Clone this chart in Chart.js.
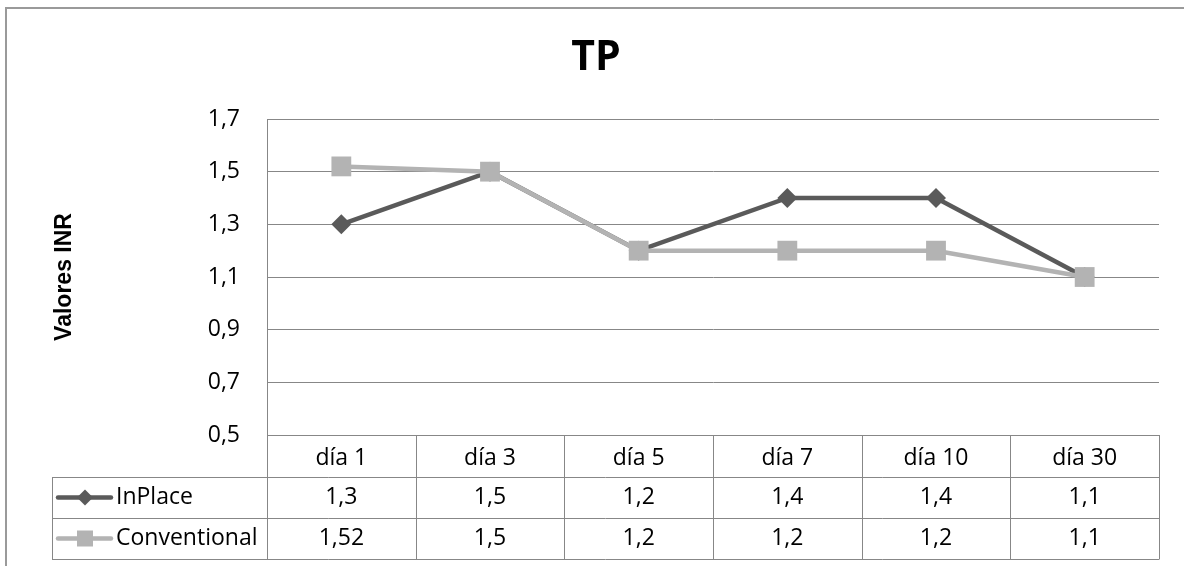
<!DOCTYPE html>
<html lang="es">
<head>
<meta charset="utf-8">
<title>TP</title>
<script src="https://cdn.jsdelivr.net/npm/chart.js@4.4.1/dist/chart.umd.min.js"></script>
<style>
  html, body { margin: 0; padding: 0; background: #fff; }
  canvas { display: block; }
</style>
</head>
<body>
<canvas id="grafico" width="1184" height="566"></canvas>
<script>
const dias = ["día 1", "día 3", "día 5", "día 7", "día 10", "día 30"];
const inPlace = [1.3, 1.5, 1.2, 1.4, 1.4, 1.1];
const conventional = [1.52, 1.5, 1.2, 1.2, 1.2, 1.1];
const ticksInr = [0.5, 0.7, 0.9, 1.1, 1.3, 1.5, 1.7];

const OSCURO = "#5a5a5a";
const CLARO = "#b3b3b3";
const LINEA = "#878787";
const FUENTE = "'Open Sans', sans-serif";
const TAM = 23;

const coma = v => String(v).replace(".", ",");

// marcador pequeño para la leyenda dentro de la tabla
function marca(ctx, estilo, cx, cy, color) {
  ctx.fillStyle = color;
  ctx.beginPath();
  if (estilo === "rectRot") {
    const r = 8;
    ctx.moveTo(cx - r, cy);
    ctx.lineTo(cx, cy - r);
    ctx.lineTo(cx + r, cy);
    ctx.lineTo(cx, cy + r);
    ctx.closePath();
  } else {
    ctx.rect(cx - 8, cy - 8, 16, 16);
  }
  ctx.fill();
}

// recuadro, título y tabla de datos bajo el eje X
const tablaDatos = {
  id: "tablaDatos",
  afterDraw(chart) {
    const { ctx, chartArea: area, scales: { x } } = chart;
    const paso = x.getPixelForValue(1) - x.getPixelForValue(0);
    const izq = x.getPixelForValue(0) - paso / 2;
    const filaAlto = 41;
    const cabecera = area.bottom;
    const y0 = x.bottom;
    const series = chart.data.datasets;
    const fondo = y0 + filaAlto * series.length;
    const tablaIzq = 52;

    ctx.save();

    // recuadro exterior
    ctx.strokeStyle = "#9a9a9a";
    ctx.lineWidth = 2;
    ctx.strokeRect(6, 8, 1400, 800);

    // título
    ctx.fillStyle = "#000";
    ctx.font = "bold 41px " + FUENTE;
    ctx.textAlign = "center";
    ctx.textBaseline = "middle";
    ctx.fillText("TP", 596, 58);

    // rejilla de la tabla
    ctx.strokeStyle = LINEA;
    ctx.lineWidth = 1;
    ctx.beginPath();
    for (let i = 0; i <= series.length; i++) {
      const y = Math.round(y0 + i * filaAlto) + 0.5;
      ctx.moveTo(tablaIzq, y);
      ctx.lineTo(area.right, y);
    }
    ctx.moveTo(tablaIzq + 0.5, y0);
    ctx.lineTo(tablaIzq + 0.5, fondo);
    for (let i = 0; i <= dias.length; i++) {
      const xx = Math.round(izq + i * paso) + 0.5;
      ctx.moveTo(xx, cabecera);
      ctx.lineTo(xx, fondo + 0.5);
    }
    ctx.stroke();

    // filas: leyenda + valores
    ctx.font = TAM + "px " + FUENTE;
    series.forEach((ds, f) => {
      const cy = y0 + f * filaAlto + filaAlto / 2;
      ctx.strokeStyle = ds.borderColor;
      ctx.lineWidth = 4.5;
      ctx.lineCap = "round";
      ctx.beginPath();
      ctx.moveTo(58, cy);
      ctx.lineTo(111, cy);
      ctx.stroke();
      marca(ctx, ds.pointStyle, 85, cy, ds.borderColor);

      ctx.fillStyle = "#000";
      ctx.textAlign = "left";
      ctx.fillText(ds.label, 116, cy);
      ctx.textAlign = "center";
      ds.data.forEach((v, i) => {
        ctx.fillText(coma(v), x.getPixelForValue(i), cy);
      });
    });

    ctx.restore();
  }
};

new Chart(document.getElementById("grafico"), {
  type: "line",
  data: {
    labels: dias,
    datasets: [
      {
        label: "InPlace",
        data: inPlace,
        borderColor: OSCURO,
        backgroundColor: OSCURO,
        borderWidth: 4.5,
        pointStyle: "rectRot",
        pointRadius: 10,
        pointBorderWidth: 0,
        order: 1,
      },
      {
        label: "Conventional",
        data: conventional,
        borderColor: CLARO,
        backgroundColor: CLARO,
        borderWidth: 4.5,
        pointStyle: "rect",
        pointRadius: 14,
        pointBorderWidth: 0,
        order: 0,
      },
    ],
  },
  options: {
    responsive: false,
    animation: false,
    layout: { padding: { left: 0, top: 119, right: 25, bottom: 89 } },
    plugins: {
      legend: { display: false },
      tooltip: { enabled: false },
      title: { display: false },
    },
    scales: {
      x: {
        offset: true,
        grid: { display: false, drawTicks: false },
        border: { display: false },
        ticks: {
          color: "#000",
          font: { family: FUENTE, size: TAM },
          padding: 10,
          maxRotation: 0,
          autoSkip: false,
        },
        afterFit: s => { s.height = 42; },
      },
      y: {
        min: 0.5,
        max: 1.7,
        afterBuildTicks: s => { s.ticks = ticksInr.map(v => ({ value: v })); },
        ticks: {
          color: "#000",
          font: { family: FUENTE, size: TAM },
          padding: 27,
          callback: v => v.toFixed(1).replace(".", ","),
        },
        grid: { color: LINEA, lineWidth: 1, drawTicks: false },
        border: { color: LINEA, width: 1 },
        title: {
          display: true,
          text: "Valores INR",
          color: "#000",
          font: { family: "'Liberation Sans', Arial, sans-serif", size: 23, weight: "bold" },
          padding: { top: 51 },
        },
        afterFit: s => { s.width = 267; },
      },
    },
  },
  plugins: [tablaDatos],
});
</script>
</body>
</html>
